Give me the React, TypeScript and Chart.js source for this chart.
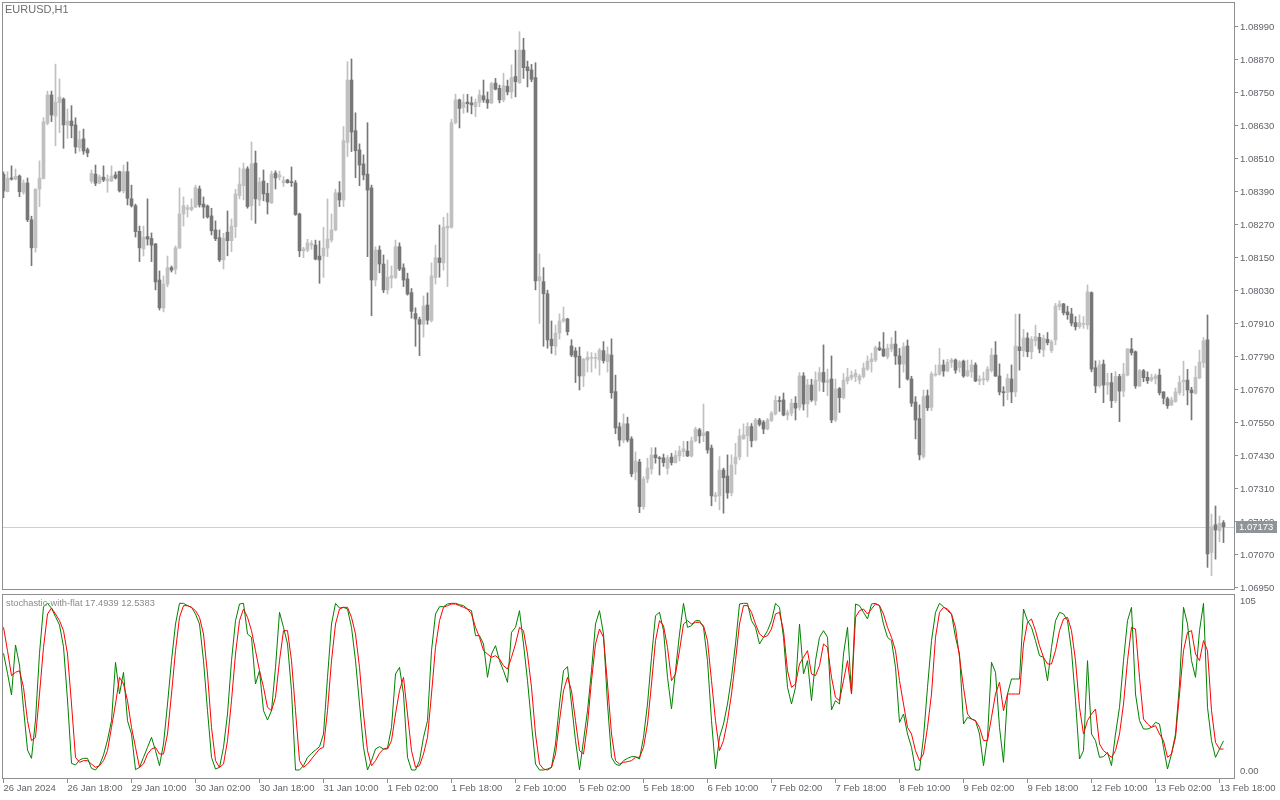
import React, { useEffect, useRef } from "react";
import { Chart, registerables } from "chart.js";

Chart.register(...registerables);

const SYMBOL_LABEL = "EURUSD,H1";
const INDICATOR_NAME = "stochastic-with-flat";

const opens = [
1.08454,1.08391,1.08440,1.08437,1.08448,1.08389,1.08423,1.08289,1.08187,1.08401,
1.08439,1.08640,1.08743,1.08666,1.08715,1.08728,1.08634,1.08648,1.08634,1.08551,
1.08583,1.08544,1.08430,1.08455,1.08423,1.08444,1.08430,1.08430,1.08452,1.08464,
1.08394,1.08464,1.08365,1.08340,1.08247,1.08183,1.08228,1.08221,1.08201,1.08070,
1.07968,1.08055,1.08115,1.08109,1.08186,1.08310,1.08327,1.08326,1.08335,1.08401,
1.08346,1.08339,1.08303,1.08252,1.08224,1.08143,1.08244,1.08213,1.08264,1.08377,
1.08413,1.08474,1.08340,1.08495,1.08361,1.08430,1.08385,1.08350,1.08459,1.08445,
1.08424,1.08434,1.08426,1.08423,1.08310,1.08176,1.08179,1.08197,1.08197,1.08157,
1.08157,1.08186,1.08215,1.08252,1.08387,1.08361,1.08570,1.08797,1.08613,1.08543,
1.08492,1.08455,1.08405,1.08070,1.08179,1.08128,1.08034,1.08077,1.08080,1.08191,
1.08114,1.08074,1.08024,1.07948,1.07926,1.07909,1.07979,1.07923,1.08079,1.08150,
1.08132,1.08259,1.08262,1.08642,1.08725,1.08697,1.08717,1.08714,1.08700,1.08716,
1.08740,1.08726,1.08714,1.08786,1.08767,1.08725,1.08774,1.08754,1.08810,1.08787,
1.08906,1.08845,1.08834,1.08806,1.08067,1.08064,1.08020,1.07855,1.07829,1.07877,
1.07921,1.07928,1.07830,1.07812,1.07793,1.07721,1.07779,1.07785,1.07785,1.07779,
1.07813,1.07773,1.07797,1.07664,1.07536,1.07488,1.07547,1.07492,1.07371,1.07408,
1.07246,1.07346,1.07383,1.07434,1.07423,1.07423,1.07385,1.07426,1.07406,1.07430,
1.07446,1.07448,1.07430,1.07485,1.07525,1.07504,1.07518,1.07459,1.07282,1.07285,
1.07379,1.07357,1.07296,1.07401,1.07427,1.07492,1.07503,1.07537,1.07488,1.07561,
1.07553,1.07528,1.07559,1.07583,1.07630,1.07634,1.07579,1.07586,1.07622,1.07607,
1.07721,1.07619,1.07688,1.07631,1.07703,1.07734,1.07698,1.07710,1.07561,1.07675,
1.07642,1.07703,1.07714,1.07719,1.07706,1.07719,1.07746,1.07773,1.07779,1.07823,
1.07819,1.07791,1.07819,1.07837,1.07794,1.07764,1.07830,1.07710,1.07626,1.07566,
1.07428,1.07649,1.07607,1.07724,1.07727,1.07761,1.07739,1.07771,1.07779,1.07752,
1.07775,1.07721,1.07736,1.07761,1.07703,1.07707,1.07707,1.07741,1.07797,1.07721,
1.07663,1.07661,1.07710,1.07663,1.07827,1.07813,1.07859,1.07809,1.07849,1.07861,
1.07815,1.07854,1.07813,1.07852,1.07973,1.07983,1.07954,1.07946,1.07915,1.07900,
1.07908,1.07906,1.08024,1.07751,1.07685,1.07764,1.07688,1.07697,1.07631,1.07719,
1.07666,1.07724,1.07819,1.07809,1.07685,1.07740,1.07716,1.07706,1.07711,1.07724,
1.07663,1.07638,1.07616,1.07628,1.07660,1.07700,1.07706,1.07670,1.07658,1.07714,
1.07769,1.07852,1.07079,1.07180,1.07158,1.07187];

const highs = [
1.08463,1.08464,1.08485,1.08474,1.08452,1.08434,1.08441,1.08302,1.08402,1.08503,
1.08660,1.08757,1.08757,1.08855,1.08801,1.08732,1.08692,1.08704,1.08660,1.08612,
1.08619,1.08550,1.08470,1.08488,1.08452,1.08485,1.08452,1.08485,1.08463,1.08466,
1.08488,1.08499,1.08415,1.08346,1.08266,1.08266,1.08365,1.08241,1.08203,1.08103,
1.08085,1.08157,1.08121,1.08194,1.08405,1.08372,1.08343,1.08365,1.08415,1.08412,
1.08372,1.08343,1.08331,1.08285,1.08252,1.08240,1.08321,1.08292,1.08400,1.08478,
1.08495,1.08482,1.08572,1.08539,1.08442,1.08470,1.08422,1.08466,1.08467,1.08466,
1.08446,1.08436,1.08481,1.08432,1.08313,1.08189,1.08218,1.08213,1.08215,1.08212,
1.08262,1.08365,1.08310,1.08400,1.08428,1.08628,1.08864,1.08874,1.08678,1.08565,
1.08525,1.08642,1.08415,1.08191,1.08194,1.08161,1.08143,1.08121,1.08215,1.08205,
1.08129,1.08095,1.08039,1.07969,1.07935,1.08012,1.08023,1.08132,1.08197,1.08270,
1.08298,1.08313,1.08655,1.08746,1.08728,1.08745,1.08745,1.08736,1.08728,1.08761,
1.08797,1.08754,1.08789,1.08803,1.08779,1.08822,1.08797,1.08852,1.08906,1.08973,
1.08949,1.08866,1.08854,1.08860,1.08165,1.08115,1.08033,1.07921,1.07906,1.07947,
1.07972,1.07931,1.07853,1.07824,1.07826,1.07785,1.07809,1.07806,1.07804,1.07821,
1.07846,1.07827,1.07856,1.07724,1.07551,1.07583,1.07571,1.07500,1.07445,1.07418,
1.07355,1.07422,1.07460,1.07460,1.07428,1.07437,1.07432,1.07440,1.07449,1.07466,
1.07483,1.07483,1.07499,1.07535,1.07531,1.07619,1.07519,1.07470,1.07298,1.07428,
1.07386,1.07434,1.07434,1.07476,1.07528,1.07547,1.07551,1.07548,1.07567,1.07567,
1.07559,1.07567,1.07592,1.07649,1.07646,1.07659,1.07597,1.07637,1.07646,1.07733,
1.07733,1.07709,1.07709,1.07736,1.07752,1.07834,1.07746,1.07794,1.07710,1.07679,
1.07730,1.07749,1.07739,1.07744,1.07727,1.07768,1.07794,1.07804,1.07830,1.07845,
1.07879,1.07837,1.07861,1.07884,1.07821,1.07842,1.07852,1.07720,1.07646,1.07616,
1.07670,1.07670,1.07736,1.07761,1.07821,1.07779,1.07782,1.07785,1.07783,1.07777,
1.07779,1.07779,1.07779,1.07769,1.07722,1.07735,1.07755,1.07821,1.07846,1.07765,
1.07682,1.07728,1.07761,1.07946,1.07946,1.07890,1.07878,1.07864,1.07906,1.07876,
1.07870,1.07879,1.07852,1.07985,1.07995,1.07985,1.07975,1.07967,1.07937,1.07943,
1.07937,1.08052,1.08027,1.07776,1.07777,1.07779,1.07731,1.07731,1.07737,1.07727,
1.07767,1.07821,1.07858,1.07812,1.07745,1.07745,1.07736,1.07727,1.07728,1.07746,
1.07664,1.07644,1.07644,1.07677,1.07721,1.07775,1.07745,1.07680,1.07757,1.07815,
1.07861,1.07943,1.07219,1.07248,1.07212,1.07195];

const lows = [
1.08369,1.08390,1.08433,1.08434,1.08373,1.08382,1.08282,1.08122,1.08171,1.08337,
1.08437,1.08634,1.08646,1.08558,1.08606,1.08549,1.08585,1.08587,1.08531,1.08538,
1.08527,1.08518,1.08422,1.08413,1.08420,1.08428,1.08389,1.08428,1.08437,1.08390,
1.08386,1.08343,1.08335,1.08226,1.08137,1.08157,1.08197,1.08137,1.08034,1.07961,
1.07954,1.08045,1.08099,1.08092,1.08185,1.08266,1.08299,1.08321,1.08334,1.08335,
1.08295,1.08295,1.08234,1.08213,1.08137,1.08110,1.08158,1.08173,1.08224,1.08365,
1.08361,1.08331,1.08288,1.08276,1.08340,1.08358,1.08310,1.08349,1.08401,1.08434,
1.08410,1.08422,1.08410,1.08305,1.08155,1.08151,1.08173,1.08182,1.08143,1.08058,
1.08079,1.08155,1.08208,1.08249,1.08337,1.08337,1.08519,1.08537,1.08442,1.08413,
1.08434,1.08155,1.07940,1.08048,1.08096,1.08024,1.08019,1.08041,1.08075,1.08104,
1.08046,1.08015,1.07931,1.07829,1.07795,1.07862,1.07909,1.07917,1.08055,1.08080,
1.08106,1.08046,1.08258,1.08637,1.08623,1.08676,1.08680,1.08674,1.08664,1.08700,
1.08716,1.08694,1.08711,1.08761,1.08714,1.08718,1.08743,1.08731,1.08736,1.08785,
1.08803,1.08772,1.08791,1.08034,1.07912,1.07829,1.07822,1.07803,1.07797,1.07855,
1.07916,1.07870,1.07791,1.07697,1.07670,1.07682,1.07735,1.07735,1.07749,1.07724,
1.07768,1.07735,1.07640,1.07511,1.07466,1.07478,1.07481,1.07355,1.07343,1.07224,
1.07236,1.07333,1.07364,1.07404,1.07361,1.07392,1.07364,1.07397,1.07404,1.07412,
1.07428,1.07428,1.07426,1.07481,1.07477,1.07482,1.07440,1.07249,1.07264,1.07234,
1.07222,1.07276,1.07285,1.07363,1.07416,1.07491,1.07428,1.07463,1.07485,1.07539,
1.07511,1.07525,1.07555,1.07579,1.07592,1.07576,1.07561,1.07576,1.07561,1.07597,
1.07597,1.07571,1.07628,1.07615,1.07666,1.07664,1.07649,1.07551,1.07555,1.07588,
1.07637,1.07692,1.07706,1.07700,1.07692,1.07713,1.07741,1.07735,1.07773,1.07813,
1.07791,1.07783,1.07809,1.07763,1.07678,1.07735,1.07706,1.07610,1.07492,1.07416,
1.07422,1.07595,1.07595,1.07720,1.07724,1.07720,1.07736,1.07752,1.07731,1.07735,
1.07716,1.07719,1.07716,1.07700,1.07689,1.07689,1.07700,1.07735,1.07719,1.07652,
1.07612,1.07634,1.07624,1.07646,1.07742,1.07791,1.07791,1.07783,1.07830,1.07805,
1.07791,1.07834,1.07806,1.07834,1.07961,1.07943,1.07927,1.07903,1.07888,1.07894,
1.07894,1.07891,1.07736,1.07660,1.07680,1.07624,1.07654,1.07606,1.07624,1.07555,
1.07646,1.07721,1.07797,1.07676,1.07682,1.07700,1.07694,1.07700,1.07692,1.07652,
1.07619,1.07603,1.07612,1.07625,1.07652,1.07649,1.07616,1.07561,1.07655,1.07711,
1.07752,1.07025,1.06995,1.07055,1.07118,1.07115];

const closes = [
1.08394,1.08440,1.08437,1.08447,1.08391,1.08423,1.08289,1.08187,1.08400,1.08440,
1.08645,1.08743,1.08670,1.08717,1.08735,1.08634,1.08648,1.08631,1.08554,1.08580,
1.08539,1.08532,1.08458,1.08422,1.08445,1.08434,1.08437,1.08448,1.08441,1.08394,
1.08464,1.08367,1.08340,1.08246,1.08187,1.08226,1.08219,1.08197,1.08063,1.07969,
1.08055,1.08115,1.08106,1.08187,1.08310,1.08340,1.08333,1.08335,1.08406,1.08343,
1.08335,1.08299,1.08249,1.08220,1.08143,1.08222,1.08213,1.08266,1.08383,1.08419,
1.08474,1.08337,1.08492,1.08365,1.08426,1.08383,1.08354,1.08455,1.08441,1.08452,
1.08431,1.08424,1.08424,1.08308,1.08176,1.08183,1.08205,1.08202,1.08146,1.08143,
1.08186,1.08219,1.08252,1.08387,1.08361,1.08577,1.08797,1.08608,1.08540,1.08488,
1.08452,1.08397,1.08070,1.08179,1.08128,1.08034,1.08080,1.08085,1.08191,1.08110,
1.08070,1.08019,1.07956,1.07928,1.07909,1.07975,1.07924,1.08085,1.08151,1.08133,
1.08262,1.08266,1.08642,1.08725,1.08694,1.08716,1.08711,1.08707,1.08716,1.08743,
1.08725,1.08714,1.08784,1.08764,1.08725,1.08777,1.08754,1.08806,1.08791,1.08906,
1.08842,1.08831,1.08800,1.08067,1.08082,1.08020,1.07852,1.07831,1.07877,1.07921,
1.07929,1.07882,1.07797,1.07790,1.07721,1.07782,1.07789,1.07787,1.07787,1.07815,
1.07777,1.07801,1.07660,1.07532,1.07488,1.07547,1.07488,1.07365,1.07412,1.07246,
1.07346,1.07386,1.07433,1.07424,1.07420,1.07406,1.07423,1.07406,1.07432,1.07448,
1.07456,1.07430,1.07485,1.07528,1.07503,1.07514,1.07452,1.07285,1.07289,1.07379,
1.07351,1.07296,1.07397,1.07426,1.07503,1.07507,1.07537,1.07485,1.07561,1.07545,
1.07528,1.07561,1.07586,1.07632,1.07628,1.07579,1.07587,1.07622,1.07604,1.07721,
1.07619,1.07688,1.07634,1.07706,1.07733,1.07698,1.07706,1.07561,1.07674,1.07642,
1.07706,1.07717,1.07724,1.07731,1.07720,1.07750,1.07775,1.07783,1.07824,1.07816,
1.07794,1.07822,1.07837,1.07794,1.07764,1.07827,1.07710,1.07622,1.07561,1.07434,
1.07646,1.07605,1.07728,1.07728,1.07761,1.07739,1.07771,1.07779,1.07742,1.07771,
1.07721,1.07740,1.07761,1.07703,1.07710,1.07709,1.07746,1.07797,1.07721,1.07663,
1.07660,1.07713,1.07663,1.07830,1.07813,1.07859,1.07809,1.07854,1.07864,1.07819,
1.07858,1.07842,1.07845,1.07976,1.07983,1.07951,1.07944,1.07913,1.07900,1.07915,
1.07910,1.08027,1.07746,1.07685,1.07761,1.07688,1.07697,1.07631,1.07719,1.07666,
1.07728,1.07819,1.07806,1.07685,1.07740,1.07715,1.07704,1.07715,1.07721,1.07660,
1.07640,1.07613,1.07634,1.07663,1.07698,1.07706,1.07670,1.07660,1.07716,1.07772,
1.07849,1.07074,1.07173,1.07161,1.07185,1.07173];

const stochK = [
70,58,45,75,63,37,12,7,30,70,
98,100,97,92,87,74,42,4,3,6,
7,7,1,0,3,9,18,29.6,64.6,45.6,
58.6,29.6,21.6,0.2,1.6,7.6,13.6,19.6,11.6,2.6,
15.6,39.6,65.6,87.6,100,100,98.6,97.6,93.6,87.6,
65.6,35.6,7.6,0.6,1.6,13.6,33.6,65.6,89.6,99.6,
100,81.6,79.6,51.6,59.6,35.6,30,35.6,61.6,94.6,
85.6,75.6,47.6,0,0,2.6,7.6,10,12,14,
21.6,55.6,87.6,100,97.2,97.6,96.6,85.6,65.6,39.6,
13.6,0,5.6,12.6,14,12.6,13.2,25.6,57.6,61.6,
45.6,7.6,0,0,5.6,19.6,29.6,71.6,93.6,98,
98,99.6,100,100,99.2,98.6,96.6,95.6,80.6,80.6,
75.6,55.6,69.6,74.6,65.6,59.6,52.6,82.6,85.6,95.6,
75.6,53.6,27.6,3.6,0,0,0.6,1.6,15.6,39.6,
59.6,62,39.6,17.6,0,17.6,35.6,59.6,87.6,95.6,
81.6,39.6,7.6,3.6,2.6,5.6,7,8,8,6.6,
19.6,39.6,67.6,92.6,94.6,83.6,55.6,36.6,59.6,81.6,
100,85.6,86.6,89.6,89.6,85.6,65.6,29.6,0.6,19.6,
27.6,39.6,55.6,75.6,99.6,100,100,89.6,85.6,75.6,
79.6,83.6,89.6,100,97.6,79.6,49.6,39.6,49.6,87.6,
57.6,65.6,41.6,65.6,79.6,83.6,79.6,36,41.6,39.6,
69.6,85.6,45.6,99.6,98.6,94.6,90.6,99.6,100,98.6,
87.6,79.6,77.6,61.6,28.6,33.6,21.6,13.6,0,0,
19.6,49.6,77.6,94.6,100,98,95.6,93.6,79.6,69.6,
27.6,31.6,30.6,29.6,21.6,2.6,19.6,64.6,58.6,25.6,
4.6,45.6,54.6,54.6,54.6,96.6,89.6,85.6,77.6,68.6,
67.6,53.6,73.6,89.6,94.6,93.6,89.6,71.6,41.6,6.6,
11.6,65.6,21.6,17.6,7.6,8,10.6,2.6,21.6,37.6,
65.6,89.6,97.6,45.6,29.6,24.6,24.6,25.6,28.6,27.6,
13.6,0.6,9.6,21.6,51.6,97.6,87.6,65.6,55.6,83.6,
100,37.6,17.6,7.6,12.6,17.4939];

const stochD = [
85.6,71.6,56.6,58.6,59.6,49.6,29.6,17.6,19.6,45.6,
73.6,93.6,97.2,93.6,89.6,83.6,69.6,39.6,7.6,4.6,
5.6,5.6,3.6,1.6,2.6,5.6,11.6,25.6,39.6,55.6,
51.6,41.6,25.6,13.6,1.6,3.6,9.6,12.6,13.6,9.6,
9.6,21.6,45.6,71.6,91.6,98.6,98.6,97.6,95.6,91.6,
81.6,57.6,25.6,5.6,1.6,3.6,17.6,41.6,69.6,89.6,
96.6,91.6,83.6,71.6,59.6,49.6,37.6,35.6,43.6,65.6,
83.6,83.6,65.6,35.6,5.6,1.6,3.6,6.6,9.6,12.6,
13.6,35.6,65.6,87.6,96.6,97.6,97.6,91.6,81.6,61.6,
33.6,11.6,2.6,5.6,10,12.6,12.6,17.6,33.6,47.6,
55.6,33.6,11.6,1.6,2.6,9.6,19.6,45.6,73.6,89.6,
97.6,98.6,99.6,99.6,98.6,97.6,96.6,93.6,85.6,79.6,
71.6,69.6,67.6,68.6,66.6,62.6,60.6,67.6,75.6,85.6,
83.6,69.6,49.6,21.6,3.6,0.6,0,1.6,9.6,29.6,
47.6,55.6,47.6,29.6,11.6,9.6,27.6,53.6,75.6,84.6,
79.6,51.6,21.6,5.6,3.6,4.6,5,5.6,7.6,7.6,
13.6,27.6,51.6,77.6,89.6,86.6,73.6,53.6,57.6,71.6,
87.6,89.6,87.6,88.6,88.6,86.6,77.6,53.6,29.6,11.6,
17.6,29.6,45.6,65.6,87.6,98.6,98.6,94.6,87.6,81.6,
79.6,80.6,84.6,93.6,94.6,83.6,59.6,49.6,51.6,63.6,
67.6,71.6,57.6,56.6,62.6,75.6,73.6,55.6,43.6,41.6,
53.6,65.6,45.6,91.6,95.6,96.6,93.6,96.6,99.6,98.6,
93.6,85.6,79.6,71.6,53.6,39.6,25.6,21.6,11.6,5.6,
9.6,25.6,45.6,79.6,94.6,97.6,96.6,93.6,85.6,67.6,
49.6,33.6,30.6,29.6,25.6,17.6,17.6,31.6,45.6,52.6,
35.6,45.6,45.6,45.6,45.6,75.6,88.6,90.6,83.6,74.6,
67.6,63.6,63.6,71.6,83.6,90.6,91.6,83.6,65.6,37.6,
21.6,29.6,33.6,36.6,15.6,11.6,9.6,7.6,11.6,21.6,
39.6,65.6,85.6,84.6,55.6,30.6,27.6,25.6,26.6,21.6,
17.6,7.6,9.6,19.6,45.6,71.6,82.6,83.6,69.6,65.6,
77.6,71.6,35.6,16.6,12.6,12.5383];

const priceTicks = [
1.0695,1.0707,1.0719,1.0731,1.0743,1.0755,1.0767,1.0779,1.0791,
1.0803,1.0815,1.0827,1.0839,1.0851,1.0863,1.0875,1.0887,1.0899];

const timeTickIndex = [0,16,32,48,64,80,96,112,128,144,160,176,192,208,224,240,256,272,288,304];
const timeTickLabels = [
"26 Jan 2024","26 Jan 18:00","29 Jan 10:00","30 Jan 02:00","30 Jan 18:00",
"31 Jan 10:00","1 Feb 02:00","1 Feb 18:00","2 Feb 10:00","5 Feb 02:00",
"5 Feb 18:00","6 Feb 10:00","7 Feb 02:00","7 Feb 18:00","8 Feb 10:00",
"9 Feb 02:00","9 Feb 18:00","12 Feb 10:00","13 Feb 02:00","13 Feb 18:00"];

const stochLevelLabels = [{ value: 105, text: "105", dy: 6 }, { value: 0, text: "0.00", dy: 1 }];

const bidPrice = 1.07173;

const FONT = '"Liberation Sans", Arial, sans-serif';
const AXIS_TEXT = "#5f6368";
const FRAME = "#8f8f8f";
const BULL = "#c0c0c0";
const BEAR = "#777777";
const X_MIN = -0.375;
const X_MAX = 307.875;

export default function App() {
  const mainRef = useRef<HTMLCanvasElement | null>(null);
  const subRef = useRef<HTMLCanvasElement | null>(null);

  useEffect(() => {
    const idx = opens.map((_, i) => i);
    const colors = idx.map((i) => (closes[i] >= opens[i] ? BULL : BEAR));

    const framePlugin = {
      id: "frame",
      afterDraw(chart: any) {
        const { ctx, chartArea: a } = chart;
        ctx.save();
        ctx.strokeStyle = FRAME;
        ctx.lineWidth = 1;
        ctx.strokeRect(a.left + 0.5, a.top + 0.5, a.right - a.left - 1, a.bottom - a.top - 1);
        ctx.restore();
      },
    };

    const mainPlugin = {
      id: "mainDecor",
      beforeDatasetsDraw(chart: any) {
        const { ctx, chartArea: a, scales } = chart;
        const y = Math.round(scales.y.getPixelForValue(bidPrice)) + 0.5;
        ctx.save();
        ctx.strokeStyle = "#cfcfcf";
        ctx.lineWidth = 1;
        ctx.beginPath();
        ctx.moveTo(a.left, y);
        ctx.lineTo(a.right, y);
        ctx.stroke();
        ctx.restore();
      },
      afterDraw(chart: any) {
        const { ctx, chartArea: a, scales } = chart;
        ctx.save();
        ctx.font = `11px ${FONT}`;
        ctx.fillStyle = "#6d6d6d";
        ctx.textBaseline = "middle";
        ctx.textAlign = "left";
        ctx.fillText(SYMBOL_LABEL, a.left + 3, a.top + 8);
        const y = Math.round(scales.y.getPixelForValue(bidPrice));
        ctx.fillStyle = "#8e949a";
        ctx.fillRect(a.right + 1, y - 6, 41, 12);
        ctx.fillStyle = "#ffffff";
        ctx.font = `9.5px ${FONT}`;
        ctx.fillText(bidPrice.toFixed(5), a.right + 4, y);
        ctx.restore();
      },
    };

    const subPlugin = {
      id: "subDecor",
      afterDraw(chart: any) {
        const { ctx, chartArea: a, scales } = chart;
        ctx.save();
        ctx.font = `9.3px ${FONT}`;
        ctx.fillStyle = "#8a8a8a";
        ctx.textBaseline = "middle";
        ctx.textAlign = "left";
        const last = stochK.length - 1;
        ctx.fillText(
          `${INDICATOR_NAME} ${stochK[last].toFixed(4)} ${stochD[last].toFixed(4)}`,
          a.left + 4,
          a.top + 9
        );
        ctx.font = `9.5px ${FONT}`;
        ctx.fillStyle = AXIS_TEXT;
        for (const lv of stochLevelLabels) {
          const y = scales.y.getPixelForValue(lv.value) + lv.dy;
          ctx.fillText(lv.text, a.right + 5, y);
        }
        ctx.restore();
      },
    };

    const main = new Chart(mainRef.current as HTMLCanvasElement, {
      type: "bar",
      data: {
        datasets: [
          {
            label: "body",
            data: idx.map((i) => ({ x: i, y: [opens[i], closes[i]] })) as any,
            backgroundColor: colors,
            borderWidth: 0,
            barThickness: 3,
            minBarLength: 1,
            grouped: false,
            order: 0,
          } as any,
          {
            label: "wick",
            data: idx.map((i) => ({ x: i, y: [lows[i], highs[i]] })) as any,
            backgroundColor: colors,
            borderWidth: 0,
            barThickness: 1,
            minBarLength: 1,
            grouped: false,
            order: 1,
          } as any,
        ],
      },
      options: {
        responsive: false,
        animation: false,
        devicePixelRatio: 1,
        events: [],
        layout: { padding: { left: 2, top: 2, right: 0, bottom: 2 } },
        plugins: { legend: { display: false }, tooltip: { enabled: false } },
        scales: {
          x: { type: "linear", min: X_MIN, max: X_MAX, display: false, offset: false },
          y: {
            position: "right",
            min: 1.069427,
            max: 1.090809,
            afterBuildTicks: (s: any) => {
              s.ticks = priceTicks.map((v) => ({ value: v }));
            },
            afterFit: (s: any) => {
              s.width = 45;
              s.paddingTop = 0;
              s.paddingBottom = 0;
            },
            ticks: {
              autoSkip: false,
              callback: (v: any) => Number(v).toFixed(5),
              font: { family: FONT, size: 9.5 },
              color: AXIS_TEXT,
              padding: 2,
            },
            grid: { display: true, drawOnChartArea: false, drawTicks: true, tickLength: 3, color: FRAME },
            border: { display: false },
          },
        },
      } as any,
      plugins: [mainPlugin, framePlugin],
    });

    const sub = new Chart(subRef.current as HTMLCanvasElement, {
      type: "line",
      data: {
        datasets: [
          {
            label: "%D",
            data: idx.map((i) => ({ x: i, y: stochD[i] })),
            borderColor: "#ff0000",
            borderWidth: 1,
            pointRadius: 0,
            tension: 0,
            order: 0,
          },
          {
            label: "%K",
            data: idx.map((i) => ({ x: i, y: stochK[i] })),
            borderColor: "#008000",
            borderWidth: 1,
            pointRadius: 0,
            tension: 0,
            order: 1,
          },
        ],
      },
      options: {
        responsive: false,
        animation: false,
        devicePixelRatio: 1,
        events: [],
        layout: { padding: { left: 2, top: 2, right: 0, bottom: 0 } },
        plugins: { legend: { display: false }, tooltip: { enabled: false } },
        scales: {
          x: {
            type: "linear",
            position: "bottom",
            min: X_MIN,
            max: X_MAX,
            offset: false,
            afterBuildTicks: (s: any) => {
              s.ticks = timeTickIndex.map((v) => ({ value: v }));
            },
            afterFit: (s: any) => {
              s.height = 21;
              s.paddingLeft = 0;
              s.paddingRight = 0;
            },
            ticks: {
              autoSkip: false,
              maxRotation: 0,
              minRotation: 0,
              align: "start",
              padding: 0,
              font: { family: FONT, size: 9.5 },
              color: AXIS_TEXT,
              callback: (v: any) => {
                const k = timeTickIndex.indexOf(Number(v));
                return k >= 0 ? timeTickLabels[k] : "";
              },
            },
            grid: { display: true, drawOnChartArea: false, drawTicks: true, tickLength: 4, color: FRAME },
            border: { display: false },
          },
          y: {
            position: "right",
            min: -5.4,
            max: 105.6,
            afterFit: (s: any) => {
              s.width = 45;
              s.paddingTop = 0;
              s.paddingBottom = 0;
            },
            ticks: { display: false },
            grid: { display: false },
            border: { display: false },
          },
        },
      } as any,
      plugins: [subPlugin, framePlugin],
    });

    return () => {
      main.destroy();
      sub.destroy();
    };
  }, []);

  return (
    <div style={{ position: "absolute", left: 0, top: 0, width: 1280, height: 800, background: "#ffffff" }}>
      <canvas ref={mainRef} width={1280} height={592} style={{ position: "absolute", left: 0, top: 0 }} />
      <canvas ref={subRef} width={1280} height={208} style={{ position: "absolute", left: 0, top: 592 }} />
    </div>
  );
}
